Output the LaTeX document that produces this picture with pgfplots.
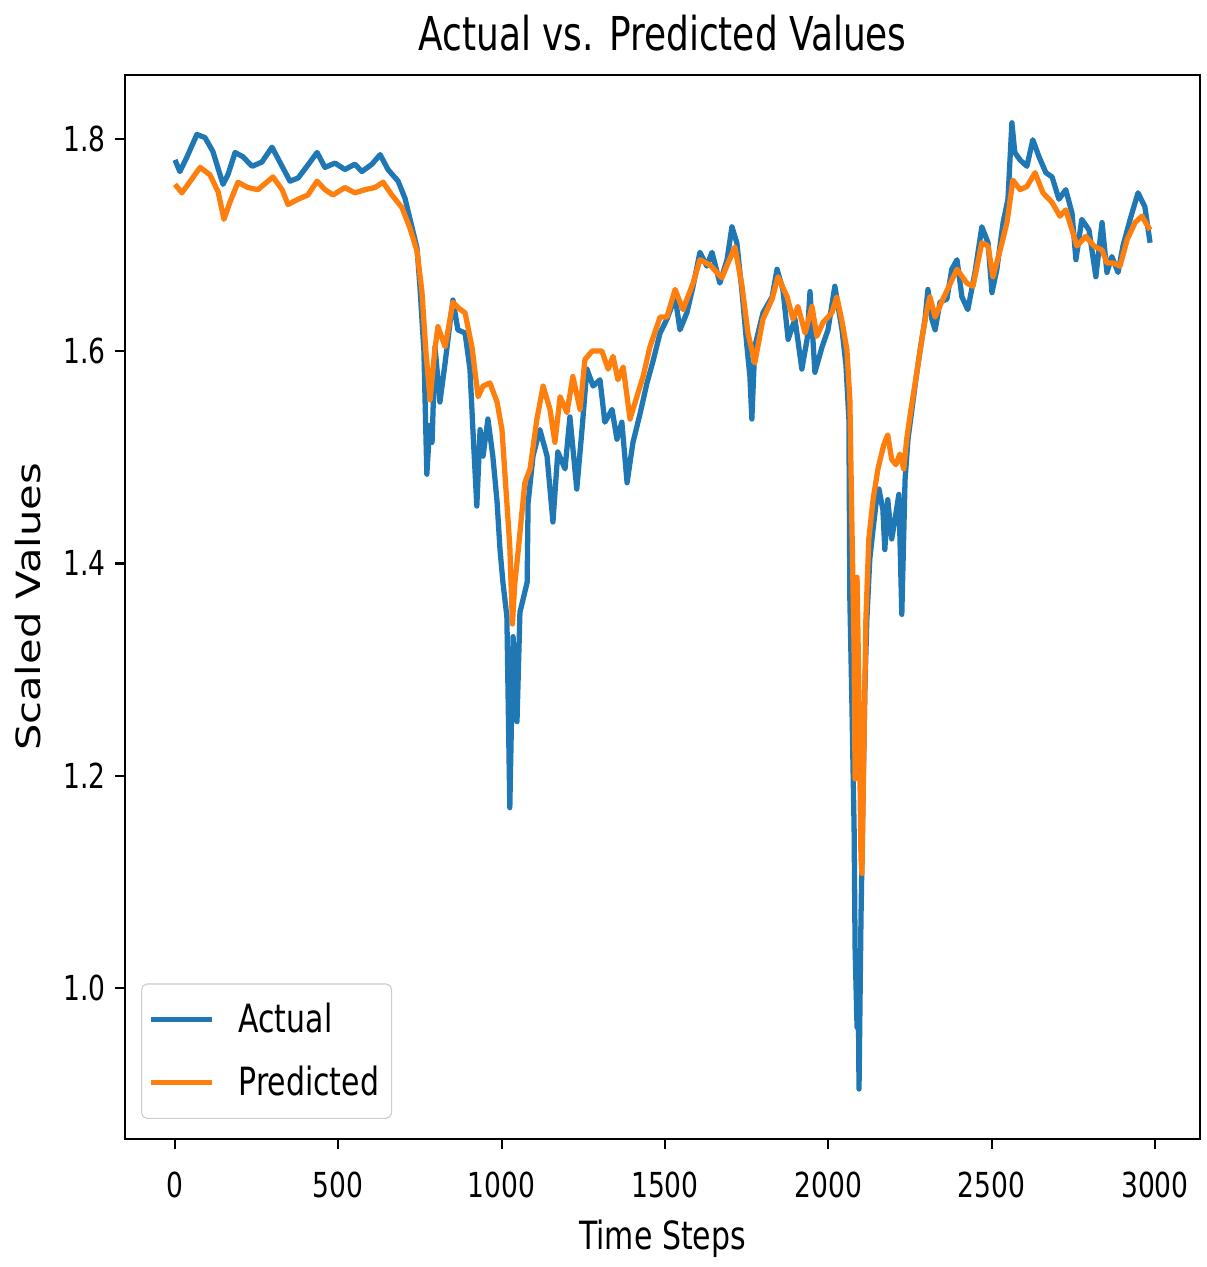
\documentclass[border=0pt]{standalone}
\usepackage{fontspec}
\usepackage{graphicx}
\usepackage{pgfplots}
\pgfplotsset{compat=1.18}
\setmainfont{DejaVu Sans}[FakeStretch=0.77]
\newfontfamily\ylabfont{DejaVu Sans}
\definecolor{mplblue}{HTML}{1F77B4}
\definecolor{mplorange}{HTML}{FF7F0E}

\begin{document}
\begin{tikzpicture}
\begin{axis}[
  scale only axis,
  width=387pt, height=383pt,
  xmin=-153, xmax=3138,
  ymin=0.858, ymax=1.860,
  xtick={0,500,...,3000},
  ytick={1.0,1.2,1.4,1.6,1.8},
  yticklabel style={/pgf/number format/.cd, fixed, fixed zerofill, precision=1},
  /pgf/number format/assume math mode=true,
  /pgf/number format/set thousands separator={},
  tick label style={font=\fontsize{12.4}{14}\selectfont},
  xticklabel style={yshift=-4.7pt},
  tick align=outside,
  xtick pos=bottom, ytick pos=left,
  major tick length=3.5pt,
  tick style={black, line width=0.8pt},
  axis line style={black, line width=0.8pt},
  title={Actual vs. Predicted Values},
  title style={font=\fontsize{16.8}{19}\selectfont, at={(0.5,1)}, anchor=center, yshift=9.2pt},
  xlabel={Time Steps},
  xlabel style={font=\fontsize{14}{16}\selectfont, at={(0.5,0)}, anchor=center, yshift=-36pt},
  ylabel={\scalebox{1}[0.8]{\ylabfont Scaled Values}},
  ylabel style={font=\fontsize{15}{17}\selectfont, at={(0,0.5)}, anchor=center, yshift=35pt},
  legend style={at={(0.0149,0.0188)}, anchor=south west, draw=black!20, rounded corners=2pt,
    fill=white, fill opacity=0.8, text opacity=1, font=\fontsize{14}{16}\selectfont,
    inner xsep=2.5pt, inner ysep=4.8pt, row sep=6.5pt},
  legend cell align=left,
  legend image code/.code={\draw[#1, line width=1.9pt] (0pt,0pt) -- (22pt,0pt); \path (28.5pt,0pt);},
  every axis plot/.append style={line width=1.9pt, line join=round},
]
\addplot[mplblue] coordinates {
(0,1.780) (15,1.769) (37,1.783) (67,1.804) (92,1.801) (116,1.788) (147,1.757) (162,1.766)
(184,1.787) (208,1.783) (236,1.774) (266,1.778) (297,1.792) (321,1.778) (352,1.760) (377,1.763)
(404,1.774) (435,1.787) (459,1.773) (490,1.777) (520,1.771) (551,1.776) (572,1.769) (603,1.776)
(628,1.785) (652,1.771) (683,1.760) (704,1.744) (726,1.716) (741,1.697) (750,1.660) (762,1.600)
(771,1.484) (780,1.530) (787,1.514) (796,1.604) (811,1.552) (827,1.589) (842,1.627) (851,1.648)
(866,1.620) (888,1.617) (903,1.583) (912,1.526) (924,1.454) (934,1.526) (943,1.501) (958,1.536)
(973,1.501) (986,1.458) (995,1.413) (1004,1.382) (1016,1.350) (1025,1.170) (1035,1.331) (1047,1.251)
(1056,1.354) (1078,1.382) (1081,1.457) (1096,1.501) (1117,1.526) (1139,1.501) (1157,1.439) (1172,1.505)
(1194,1.489) (1209,1.538) (1230,1.470) (1246,1.526) (1261,1.583) (1280,1.567) (1301,1.573) (1316,1.533)
(1338,1.545) (1353,1.517) (1368,1.533) (1384,1.476) (1402,1.514) (1423,1.540) (1445,1.570) (1463,1.590)
(1485,1.617) (1506,1.630) (1531,1.651) (1546,1.620) (1567,1.636) (1586,1.661) (1607,1.693) (1628,1.680)
(1644,1.693) (1668,1.664) (1690,1.686) (1705,1.717) (1720,1.702) (1736,1.655) (1751,1.604) (1760,1.576)
(1766,1.536) (1775,1.604) (1800,1.636) (1828,1.651) (1843,1.677) (1861,1.658) (1877,1.611) (1898,1.630)
(1919,1.583) (1935,1.611) (1944,1.656) (1959,1.580) (1981,1.604) (1999,1.620) (2020,1.661) (2042,1.620)
(2054,1.587) (2063,1.536) (2066,1.366) (2072,1.272) (2079,1.150) (2082,1.038) (2088,0.963) (2091,1.029)
(2094,0.905) (2100,1.065) (2106,1.178) (2112,1.282) (2118,1.347) (2127,1.404) (2137,1.432) (2146,1.456)
(2155,1.470) (2167,1.451) (2173,1.413) (2182,1.460) (2194,1.423) (2204,1.441) (2216,1.465) (2225,1.352)
(2235,1.479) (2244,1.517) (2256,1.545) (2268,1.573) (2281,1.601) (2296,1.630) (2305,1.658) (2317,1.630)
(2327,1.620) (2342,1.646) (2363,1.649) (2378,1.677) (2394,1.686) (2409,1.651) (2427,1.639) (2449,1.674)
(2470,1.717) (2489,1.702) (2501,1.655) (2516,1.677) (2535,1.721) (2550,1.743) (2562,1.815) (2571,1.787)
(2587,1.780) (2608,1.774) (2626,1.799) (2645,1.783) (2666,1.768) (2685,1.764) (2706,1.743) (2727,1.752)
(2746,1.730) (2758,1.686) (2776,1.724) (2798,1.714) (2819,1.670) (2838,1.721) (2853,1.674) (2868,1.689)
(2887,1.674) (2902,1.699) (2924,1.724) (2948,1.749) (2969,1.736) (2985,1.702)
};
\addlegendentry{Actual}
\addplot[mplorange] coordinates {
(0,1.757) (21,1.749) (40,1.757) (77,1.773) (107,1.766) (132,1.750) (150,1.724) (168,1.740)
(193,1.759) (223,1.754) (254,1.752) (300,1.764) (328,1.752) (346,1.738) (377,1.743) (407,1.747)
(435,1.760) (459,1.752) (484,1.747) (520,1.754) (551,1.749) (582,1.752) (612,1.754) (637,1.759)
(664,1.747) (695,1.735) (719,1.716) (741,1.694) (756,1.656) (768,1.600) (781,1.554) (795,1.600)
(805,1.623) (827,1.604) (851,1.646) (870,1.640) (888,1.636) (909,1.604) (928,1.557) (943,1.567)
(964,1.570) (986,1.552) (1001,1.526) (1016,1.457) (1025,1.416) (1033,1.343) (1040,1.380) (1050,1.410)
(1071,1.476) (1087,1.489) (1108,1.536) (1127,1.567) (1148,1.545) (1163,1.514) (1179,1.557) (1200,1.542)
(1218,1.576) (1240,1.545) (1255,1.592) (1277,1.600) (1307,1.600) (1326,1.583) (1341,1.595) (1356,1.573)
(1372,1.585) (1393,1.536) (1414,1.557) (1433,1.576) (1454,1.604) (1485,1.632) (1506,1.632) (1531,1.658)
(1555,1.639) (1586,1.664) (1607,1.686) (1638,1.681) (1674,1.669) (1714,1.698) (1736,1.661) (1754,1.617)
(1775,1.589) (1800,1.630) (1828,1.649) (1846,1.670) (1874,1.651) (1892,1.630) (1907,1.642) (1929,1.617)
(1950,1.642) (1965,1.614) (1984,1.627) (2011,1.636) (2026,1.651) (2042,1.628) (2057,1.601) (2066,1.554)
(2072,1.441) (2079,1.319) (2082,1.197) (2085,1.366) (2088,1.387) (2094,1.272) (2100,1.122) (2103,1.108)
(2109,1.225) (2115,1.347) (2124,1.423) (2137,1.460) (2152,1.489) (2170,1.512) (2182,1.521) (2194,1.498)
(2207,1.493) (2219,1.503) (2231,1.489) (2240,1.517) (2253,1.545) (2265,1.568) (2277,1.592) (2289,1.616)
(2302,1.639) (2311,1.651) (2327,1.632) (2351,1.649) (2394,1.677) (2424,1.664) (2443,1.661) (2470,1.702)
(2489,1.699) (2504,1.670) (2526,1.695) (2547,1.721) (2565,1.761) (2587,1.752) (2608,1.755) (2633,1.768)
(2657,1.749) (2685,1.740) (2709,1.727) (2727,1.733) (2746,1.714) (2761,1.699) (2788,1.708) (2813,1.699)
(2838,1.695) (2853,1.683) (2871,1.683) (2893,1.680) (2915,1.705) (2939,1.721) (2960,1.727) (2985,1.714)
};
\addlegendentry{Predicted}
\end{axis}
% keep the page the size of the reference around the axis
\path ([xshift=-45pt, yshift=-45.7pt] current axis.south west) rectangle ([xshift=2.2pt, yshift=27pt] current axis.north east);
\end{tikzpicture}
\end{document}
